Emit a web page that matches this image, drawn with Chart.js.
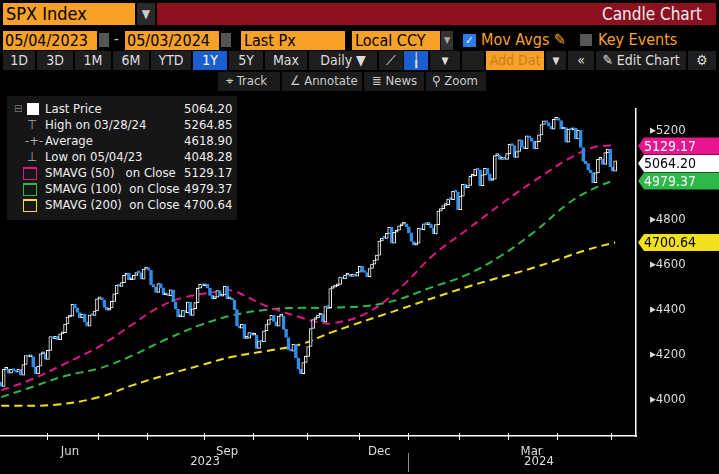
<!DOCTYPE html>
<html>
<head>
<meta charset="utf-8">
<script src="https://cdn.jsdelivr.net/npm/chart.js@4/dist/chart.umd.min.js"></script>
<style>
	body {margin: 0; background: #000; width: 719px; height: 474px; overflow: hidden; font-family: 'DejaVu Sans Condensed', 'DejaVu Sans', sans-serif; position: relative;}
	.abs {position: absolute; box-sizing: border-box; white-space: nowrap;}
	.or {background: #f7a128; color: #000;}
	.btn {background: #1e1e1e; color: #ddd; font-size: 14px; text-align: center; line-height: 19px; height: 19px; top: 51px;}
	.tb {background: #1b1b1b; color: #ccc; font-size: 13px; line-height: 18px; height: 19px; top: 72px;}
	#legend {left: 7px; top: 96px; width: 230px; height: 124px; background: #161616; color: #eee; font-size: 13px;}
	#legend div {position: absolute; left: 38px;}
	#legend span {position: absolute; left: 177px;}
	#wrap {position: absolute; left: 0; top: 95px; width: 719px; height: 379px;}
</style>
</head>
<body>
<div class="abs or" style="left:3px;top:3px;width:132px;height:22px;font-size:18px;line-height:22px;padding-left:3px">SPX Index</div>
<div class="abs" style="left:137px;top:3px;width:18px;height:22px;background:#2a2a2a;color:#ccc;font-size:12px;line-height:22px;text-align:center">▼</div>
<div class="abs" style="left:157px;top:3px;width:559px;height:22px;background:#8c1020;color:#eee;font-size:17px;line-height:22px;text-align:right;padding-right:14px">Candle Chart</div>
<div class="abs or" style="left:3px;top:31px;width:94px;height:19px;font-size:16px;line-height:19px;padding-left:2px">05/04/2023</div>
<div class="abs" style="left:99px;top:33px;width:10px;height:14px;background:#555"></div>
<div class="abs" style="left:114px;top:30px;color:#ccc;font-size:15px">-</div>
<div class="abs or" style="left:125px;top:31px;width:94px;height:19px;font-size:16px;line-height:19px;padding-left:2px">05/03/2024</div>
<div class="abs" style="left:221px;top:33px;width:10px;height:14px;background:#555"></div>
<div class="abs or" style="left:241px;top:31px;width:104px;height:19px;font-size:16px;line-height:19px;padding-left:3px">Last Px</div>
<div class="abs or" style="left:352px;top:31px;width:88px;height:19px;font-size:16px;line-height:19px;padding-left:3px">Local CCY</div>
<div class="abs" style="left:441px;top:31px;width:12px;height:19px;background:#333;color:#aaa;font-size:9px;line-height:19px;text-align:center">▼</div>
<div class="abs" style="left:463px;top:34px;width:13px;height:13px;background:#2b7de9;color:#fff;font-size:11px;line-height:13px;text-align:center">✓</div>
<div class="abs" style="left:481px;top:30px;color:#f7a128;font-size:16px">Mov Avgs ✎</div>
<div class="abs" style="left:580px;top:34px;width:12px;height:12px;background:#555"></div>
<div class="abs" style="left:598px;top:30px;color:#f7a128;font-size:16px">Key Events</div>
<div class="abs btn" style="left:3px;width:32px">1D</div>
<div class="abs btn" style="left:37px;width:36px">3D</div>
<div class="abs btn" style="left:75px;width:36px">1M</div>
<div class="abs btn" style="left:113px;width:36px">6M</div>
<div class="abs btn" style="left:151px;width:40px">YTD</div>
<div class="abs btn" style="left:193px;width:34px;background:#1a5fd0;color:#fff">1Y</div>
<div class="abs btn" style="left:229px;width:34px">5Y</div>
<div class="abs btn" style="left:265px;width:42px">Max</div>
<div class="abs btn" style="left:309px;width:68px">Daily ▼</div>
<div class="abs btn" style="left:379px;width:24px">⟋</div>
<div class="abs btn" style="left:404px;width:24px;background:#1a5fd0">╽</div>
<div class="abs btn" style="left:430px;width:30px;font-size:10px">▼</div>
<div class="abs btn" style="left:462px;width:22px"></div>
<div class="abs btn or" style="left:486px;width:58px;color:#c87e1a;background:#f7a128">Add Dat</div>
<div class="abs btn" style="left:546px;width:20px;font-size:10px">▼</div>
<div class="abs btn" style="left:568px;width:26px">«</div>
<div class="abs btn" style="left:596px;width:90px">✎ Edit Chart</div>
<div class="abs btn" style="left:688px;width:28px">⚙</div>
<div class="abs tb" style="left:218px;width:62px;padding-left:8px">⌖ Track</div>
<div class="abs tb" style="left:282px;width:80px;padding-left:8px">∠ Annotate</div>
<div class="abs tb" style="left:364px;width:60px;padding-left:8px">≣ News</div>
<div class="abs tb" style="left:426px;width:60px;padding-left:6px">⚲ Zoom</div>
<div id="wrap"><canvas id="chart"></canvas></div>
<div id="legend" class="abs">
	<div style="top:6px;left:7px;color:#777;font-size:11px">⊟</div>
	<div style="top:7px;left:20px;width:12px;height:12px;background:#fff"></div>
	<div style="top:5px">Last Price</div><span style="top:5px">5064.20</span>
	<div style="top:21px;left:20px;color:#aaa">⊤</div>
	<div style="top:21px">High on 03/28/24</div><span style="top:21px">5264.85</span>
	<div style="top:37px;left:18px;color:#aaa">-+-</div>
	<div style="top:37px">Average</div><span style="top:37px">4618.90</span>
	<div style="top:53px;left:20px;color:#aaa">⊥</div>
	<div style="top:53px">Low on 05/04/23</div><span style="top:53px">4048.28</span>
	<div style="top:71px;left:16px;width:12px;height:10px;border:1px solid #e0158a;border-top-width:2px"></div>
	<div style="top:69px">SMAVG (50)&nbsp;&nbsp;&nbsp;on Close</div><span style="top:69px">5129.17</span>
	<div style="top:87px;left:16px;width:12px;height:10px;border:1px solid #2fb84a;border-top-width:2px"></div>
	<div style="top:85px">SMAVG (100)&nbsp;&nbsp;on Close</div><span style="top:85px">4979.37</span>
	<div style="top:103px;left:16px;width:12px;height:10px;border:1px solid #f0e020;border-top-width:2px"></div>
	<div style="top:101px">SMAVG (200)&nbsp;&nbsp;on Close</div><span style="top:101px">4700.64</span>
</div>
<script>
// daily closes, 05/04/2023 .. 05/02/2024
const closes = [
	4061, 4136, 4138, 4119, 4137, 4131, 4124, 4136, 4110, 4158, 4198, 4192, 4193, 4146, 4116, 4151, 4205, 4206, 4180,
	4221, 4282, 4273, 4283, 4268, 4294, 4299, 4338, 4369, 4373, 4426, 4410, 4389, 4366, 4382, 4348, 4328, 4378, 4376, 4396, 4450,
	4455, 4446, 4412, 4399, 4409, 4439, 4472, 4510, 4505, 4522, 4555, 4565, 4535, 4536, 4554, 4567, 4566, 4537, 4582, 4589,
	4577, 4513, 4502, 4478, 4518, 4499, 4468, 4469, 4464, 4490, 4437, 4404, 4370, 4370, 4400, 4388, 4436, 4376, 4406, 4433, 4497, 4514, 4508,
	4516, 4497, 4465, 4451, 4457, 4487, 4462, 4467, 4505, 4450, 4453, 4444, 4402, 4330, 4320, 4337, 4274, 4275, 4300, 4288,
	4288, 4229, 4263, 4258, 4308, 4336, 4358, 4377, 4349, 4328, 4373, 4374, 4314, 4278, 4224, 4217, 4248, 4187, 4137, 4117, 4167, 4194,
	4238, 4318, 4358, 4365, 4378, 4383, 4347, 4415, 4411, 4496, 4502, 4508, 4514, 4547, 4538, 4556, 4559, 4550, 4555, 4551, 4568,
	4595, 4569, 4567, 4549, 4585, 4604, 4622, 4644, 4707, 4720, 4719, 4741, 4768, 4698, 4746, 4755, 4775, 4782, 4783, 4770,
	4743, 4705, 4689, 4697, 4764, 4757, 4783, 4780, 4784, 4766, 4739, 4780, 4840, 4851, 4865, 4869, 4894, 4891, 4928, 4925, 4846,
	4906, 4959, 4943, 4954, 4995, 4998, 5027, 5022, 4953, 5001, 5030, 5006, 4976, 4982, 5087, 5089, 5070, 5078, 5070, 5096,
	5137, 5131, 5079, 5105, 5157, 5124, 5118, 5175, 5165, 5150, 5117, 5149, 5179, 5225, 5241, 5234, 5218, 5204, 5248, 5254,
	5243, 5205, 5211, 5147, 5204, 5202, 5209, 5161, 5199, 5123, 5061, 5051, 5022, 5011, 4967, 5010, 5070, 5072, 5048, 5100, 5116, 5036,
	5018, 5064,
];
const firstOpen = 4080;
const emptyDaysAfter = 8;

const sma50Idx = [0, 12, 26, 40, 53, 63, 73, 88, 94, 108, 122, 129, 135, 149, 163, 176, 190, 204, 217, 231, 241, 248, 250];
const sma50 = [4043, 4090, 4162, 4239, 4333, 4405, 4452, 4482, 4487, 4418, 4367, 4346, 4341, 4388, 4504, 4645, 4760, 4875, 4974, 5072, 5123, 5132, 5129];
const sma100Idx = [0, 12, 26, 40, 53, 67, 81, 94, 108, 122, 135, 156, 176, 190, 204, 217, 231, 241, 250];
const sma100 = [4013, 4056, 4107, 4141, 4196, 4269, 4333, 4376, 4401, 4410, 4410, 4431, 4504, 4559, 4645, 4747, 4875, 4939, 4979];
const sma200Idx = [0, 22, 40, 53, 67, 81, 94, 108, 122, 135, 163, 190, 217, 238, 250];
const sma200 = [3974, 3979, 4013, 4064, 4111, 4154, 4192, 4218, 4248, 4303, 4406, 4504, 4589, 4666, 4701];

const monthStarts = [19, 40, 60, 83, 103, 125, 146, 166, 187, 207, 227, 249];
const monthLabels = {28: 'Jun', 92: 'Sep', 154: 'Dec', 216: 'Mar'};
const yearLabels = [['2023', 83], ['2024', 219]];
const yTickLabels = [4000, 4200, 4400, 4600, 4800, 5200];
const lastTags = [
	{value: '5129.17', y: 5129.17, bg: '#e8168e', fg: '#fff'},
	{value: '5064.20', y: 5064.20, bg: '#fff', fg: '#000'},
	{value: '4979.37', y: 4979.37, bg: '#2fb84a', fg: '#fff'},
	{value: '4700.64', y: 4700.64, bg: '#f0e020', fg: '#000'},
];

const labels = Array.from({length: closes.length + emptyDaysAfter}, (_, i) => i);
const opens = closes.map((c, i) => (i === 0 ? firstOpen : closes[i - 1]));
const bodies = closes.map((c, i) => [opens[i], c]);
const isDown = closes.map((c, i) => c < opens[i]);

function sparse(idx, vals) {
	const out = new Array(closes.length).fill(null);
	idx.forEach((k, j) => { out[k] = vals[j]; });
	return out;
}

const overlay = {
	id: 'overlay',
	afterDraw(chart) {
		const {ctx, scales: {x, y}, chartArea} = chart;
		ctx.save();
		ctx.font = '13px "DejaVu Sans Condensed", "DejaVu Sans", sans-serif';
		ctx.fillStyle = '#ddd';
		ctx.textAlign = 'center';
		ctx.textBaseline = 'middle';
		yearLabels.forEach(([t, i]) => ctx.fillText(t, x.getPixelForValue(i), chartArea.bottom + 26));
		ctx.strokeStyle = '#888';
		ctx.lineWidth = 1;
		const xj = Math.round(x.getPixelForValue(166) - 1.2) + 0.5;
		ctx.beginPath(); ctx.moveTo(xj, chartArea.bottom + 17); ctx.lineTo(xj, chartArea.bottom + 36); ctx.stroke();
		ctx.strokeStyle = '#fff';
		monthStarts.forEach(i => {
			const px = Math.round(x.getPixelForValue(i) - 1.2) + 0.5;
			ctx.beginPath(); ctx.moveTo(px, chartArea.bottom - 3); ctx.lineTo(px, chartArea.bottom + 4); ctx.stroke();
		});
		ctx.textAlign = 'left';
		ctx.font = '14px "DejaVu Sans Condensed", "DejaVu Sans", sans-serif';
		let prev = -100;
		lastTags.forEach(t => {
			let py = y.getPixelForValue(t.y);
			if (py - prev < 17) py = prev + 17.5;
			prev = py;
			ctx.fillStyle = t.bg;
			ctx.beginPath();
			ctx.moveTo(chartArea.right + 2, py);
			ctx.lineTo(chartArea.right + 8, py - 8.5);
			ctx.lineTo(719, py - 8.5);
			ctx.lineTo(719, py + 8.5);
			ctx.lineTo(chartArea.right + 8, py + 8.5);
			ctx.closePath();
			ctx.fill();
			ctx.fillStyle = t.fg;
			ctx.fillText(t.value, chartArea.right + 8, py + 1);
		});
		ctx.restore();
	},
};

const maLine = (data, color) => ({
	type: 'line',
	data,
	borderColor: color,
	borderWidth: 2,
	borderDash: [8, 5],
	pointRadius: 0,
	spanGaps: true,
	tension: 0.4,
	order: 2,
});

new Chart(document.getElementById('chart'), {
	data: {
		labels,
		datasets: [
			{
				type: 'bar',
				data: bodies,
				backgroundColor: isDown.map(d => (d ? '#2f8fe8' : '#000')),
				borderColor: isDown.map(d => (d ? '#2f8fe8' : '#fff')),
				borderWidth: 1,
				borderSkipped: false,
				barThickness: 3,
				minBarLength: 2,
				order: 1,
			},
			maLine(sparse(sma50Idx, sma50), '#e0158a'),
			maLine(sparse(sma100Idx, sma100), '#2fb84a'),
			maLine(sparse(sma200Idx, sma200), '#f0e020'),
		],
	},
	options: {
		responsive: true,
		maintainAspectRatio: false,
		animation: false,
		layout: {padding: {left: 0, top: 0, right: 0, bottom: 0}},
		plugins: {legend: {display: false}, tooltip: {enabled: false}},
		scales: {
			x: {
				offset: true,
				grid: {display: false},
				border: {color: '#fff', width: 1.5},
				ticks: {
					autoSkip: false,
					maxRotation: 0,
					color: '#ddd',
					padding: 0,
					font: {family: '"DejaVu Sans Condensed", "DejaVu Sans", sans-serif', size: 13},
					callback: (v) => monthLabels[v] || '',
				},
				afterFit: (s) => { s.height = 38; },
			},
			y: {
				position: 'right',
				min: 3840,
				max: 5295,
				grid: {display: false},
				border: {color: '#fff', width: 1.5},
				afterBuildTicks: (s) => {
					const t = [];
					for (let v = 3900; v <= 5200; v += 100) t.push({value: v});
					s.ticks = t;
				},
				ticks: {
					color: '#ddd',
					padding: 6,
					font: {family: '"DejaVu Sans Condensed", "DejaVu Sans", sans-serif', size: 13},
					callback: (v) => (yTickLabels.includes(v) ? '\u25B8' + v : ''),
				},
				afterFit: (s) => { s.width = 83; },
			},
		},
	},
	plugins: [overlay],
});
</script>
</body>
</html>
